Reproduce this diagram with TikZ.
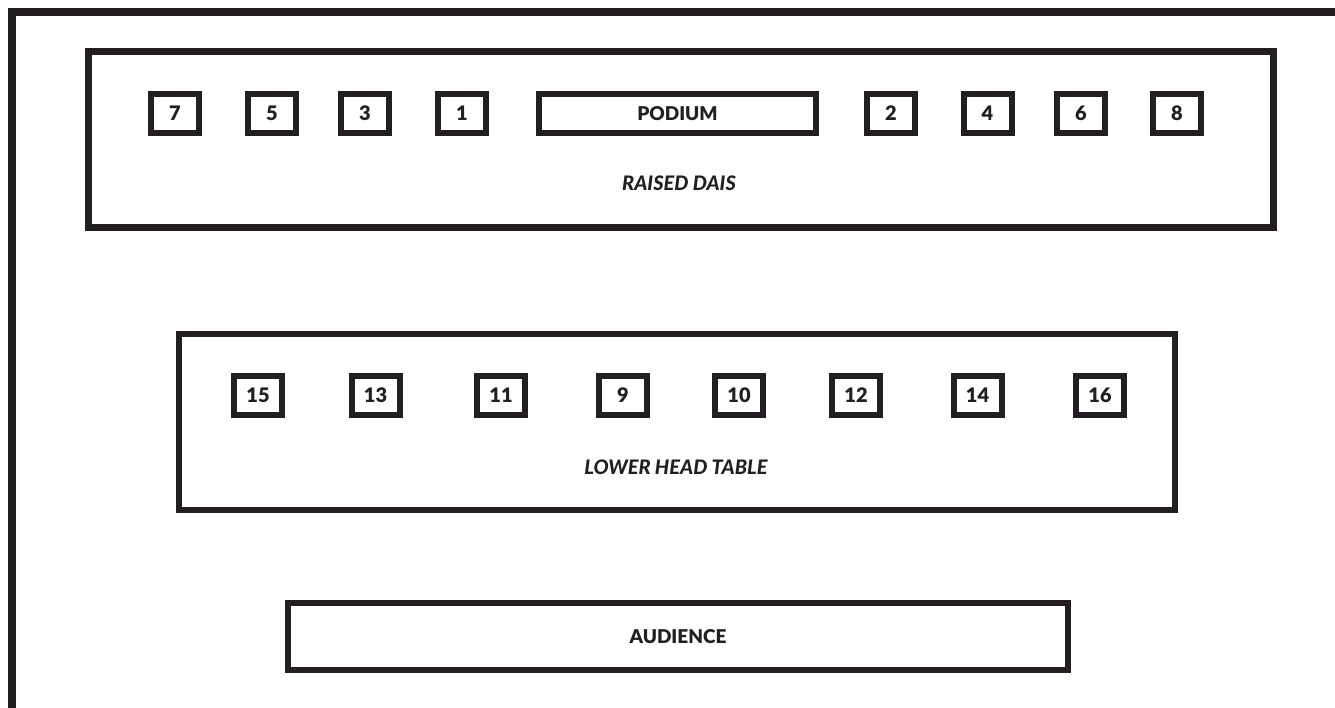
\documentclass[tikz,border=0pt]{standalone}
\usepackage{fontspec}
\setmainfont{Lato}[BoldFont={Lato Black},BoldItalicFont={Lato Black Italic}]
\definecolor{ink}{HTML}{231F20}
\begin{document}
\begin{tikzpicture}[x=1pt,y=-1pt,
  seat/.style={draw=ink,line width=6pt,fill=white,minimum width=48pt,minimum height=39pt,inner sep=0pt,
    font=\fontsize{20}{20}\selectfont\bfseries,text=ink},
  zone/.style={draw=ink,inner sep=0pt},
  lbl/.style={font=\fontsize{20}{20}\selectfont\bfseries\itshape,text=ink,inner sep=0pt},
  plain/.style={font=\fontsize{19}{19}\selectfont\bfseries,text=ink,inner sep=0pt}]
\useasboundingbox (0,0) rectangle (1335,708);
% outer room frame
\coordinate (fb) at (12,708);
\coordinate (fc) at (12,12);
\coordinate (fr) at (1335,12);
\draw[ink,line width=8pt] (fb) -- (fc) -- (fr);
% raised dais
\node[zone,line width=7pt,minimum width=1184.5pt,minimum height=176.5pt] (dais) at (680.75,139.75) {};
\node[lbl] (daislbl) at (679,183) {RAISED DAIS};
\node[seat] (s7) at (175,113.5) {7};
\node[seat] (s5) at (272,113.5) {5};
\node[seat] (s3) at (365,113.5) {3};
\node[seat] (s1) at (462,113.5) {1};
\node[seat,minimum width=277pt,plain] (podium) at (677.5,114) {PODIUM};
\node[seat] (s2) at (891,113.5) {2};
\node[seat] (s4) at (987.5,113.5) {4};
\node[seat] (s6) at (1081,113.5) {6};
\node[seat] (s8) at (1177,113.5) {8};
% lower head table
\node[zone,line width=6pt,minimum width=995.5pt,minimum height=176pt] (lower) at (676.75,422) {};
\node[lbl] (lowerlbl) at (676,467) {LOWER HEAD TABLE};
\node[seat] (s15) at (258,395.5) {15};
\node[seat] (s13) at (375.5,395.5) {13};
\node[seat] (s11) at (501,395.5) {11};
\node[seat] (s9) at (623,395.5) {9};
\node[seat] (s10) at (739,395.5) {10};
\node[seat] (s12) at (856,395.5) {12};
\node[seat] (s14) at (977.5,395.5) {14};
\node[seat] (s16) at (1100,395.5) {16};
% audience
\node[zone,line width=6pt,minimum width=780pt,minimum height=67pt,plain] (aud) at (678,636.5) {AUDIENCE};
\end{tikzpicture}
\end{document}
